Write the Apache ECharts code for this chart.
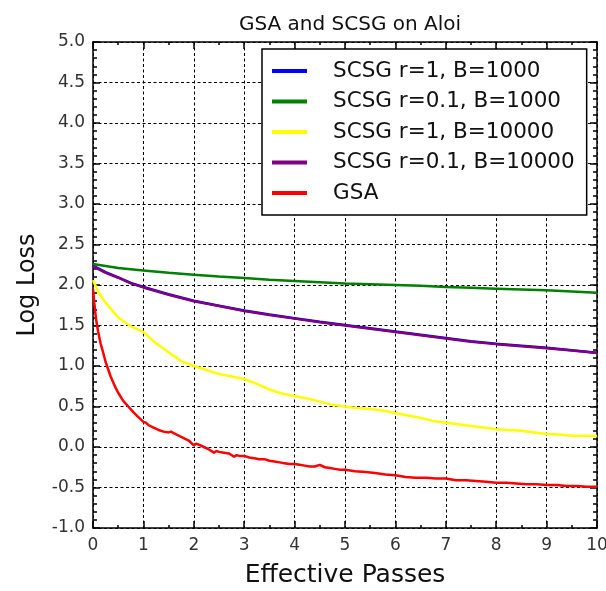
<!DOCTYPE html>
<html>
<head>
<meta charset="utf-8">
<script src="https://cdn.jsdelivr.net/npm/echarts@6/dist/echarts.min.js"></script>
<style>
  html, body { margin: 0; padding: 0; background: #fff; }
  #chart { width: 606px; height: 591px; }
</style>
</head>
<body>
<div id="chart"></div>
<script>
// Effective passes (x) and log loss (y) per method
const smoothX = [0, 0.25, 0.5, 0.75, 1, 1.5, 2, 2.5, 3, 3.5, 4, 4.5, 5, 5.5, 6, 6.5, 7, 7.5, 8, 8.5, 9, 9.5, 10];
const scsgR1B1000 = [2.24, 2.16, 2.095, 2.025, 1.975, 1.885, 1.805, 1.745, 1.685, 1.635, 1.59, 1.545, 1.505, 1.465, 1.425, 1.385, 1.345, 1.305, 1.275, 1.25, 1.225, 1.195, 1.165];
const scsgR01B10000 = [2.23, 2.15, 2.09, 2.02, 1.97, 1.88, 1.80, 1.74, 1.68, 1.63, 1.585, 1.54, 1.50, 1.46, 1.42, 1.38, 1.34, 1.30, 1.27, 1.245, 1.22, 1.19, 1.16];
const scsgR01B1000 = [2.26, 2.235, 2.21, 2.195, 2.18, 2.15, 2.126, 2.105, 2.085, 2.065, 2.05, 2.035, 2.02, 2.01, 2.0, 1.99, 1.975, 1.965, 1.955, 1.945, 1.935, 1.92, 1.905];

const yellowX = [0, 0.1, 0.25, 0.5, 0.75, 1, 1.25, 1.5, 1.75, 2, 2.25, 2.5, 2.75, 3, 3.25, 3.5, 3.75, 4, 4.25, 4.5, 4.75, 5, 5.25, 5.5, 5.75, 6, 6.25, 6.5, 6.75, 7, 7.25, 7.5, 7.75, 8, 8.25, 8.5, 8.75, 9, 9.25, 9.5, 9.75, 10];
const scsgR1B10000 = [2.06, 1.92, 1.78, 1.60, 1.49, 1.42, 1.28, 1.17, 1.06, 1.0, 0.95, 0.90, 0.87, 0.84, 0.78, 0.71, 0.66, 0.63, 0.60, 0.56, 0.52, 0.50, 0.48, 0.47, 0.45, 0.42, 0.39, 0.36, 0.32, 0.30, 0.28, 0.26, 0.24, 0.22, 0.21, 0.20, 0.18, 0.16, 0.155, 0.14, 0.14, 0.135];

const gsaX = [0, 0.03, 0.06, 0.1, 0.15, 0.2, 0.25, 0.3, 0.35, 0.4, 0.45, 0.5, 0.6, 0.7, 0.8, 0.9, 1.0, 1.05, 1.1, 1.2, 1.3, 1.4, 1.5, 1.55, 1.6, 1.7, 1.8, 1.9, 2.0, 2.05, 2.1, 2.2, 2.3, 2.4, 2.45, 2.5, 2.6, 2.7, 2.8, 2.85, 2.9, 3.0, 3.1, 3.2, 3.3, 3.4, 3.5, 3.6, 3.7, 3.8, 3.9, 4.0, 4.1, 4.2, 4.3, 4.4, 4.5, 4.6, 4.7, 4.8, 4.9, 5.0, 5.2, 5.4, 5.6, 5.8, 6.0, 6.2, 6.4, 6.6, 6.8, 7.0, 7.2, 7.4, 7.6, 7.8, 8.0, 8.2, 8.4, 8.6, 8.8, 9.0, 9.2, 9.4, 9.6, 9.8, 10.0];
const gsa = [1.95, 1.75, 1.58, 1.43, 1.28, 1.17, 1.05, 0.96, 0.87, 0.80, 0.73, 0.67, 0.57, 0.50, 0.43, 0.37, 0.31, 0.30, 0.27, 0.24, 0.21, 0.19, 0.18, 0.19, 0.17, 0.14, 0.11, 0.08, 0.02, 0.04, 0.03, 0.0, -0.03, -0.07, -0.05, -0.06, -0.07, -0.08, -0.12, -0.10, -0.11, -0.11, -0.13, -0.14, -0.15, -0.15, -0.17, -0.18, -0.19, -0.20, -0.21, -0.21, -0.22, -0.23, -0.24, -0.24, -0.22, -0.25, -0.26, -0.27, -0.28, -0.28, -0.30, -0.31, -0.32, -0.34, -0.35, -0.37, -0.38, -0.38, -0.39, -0.39, -0.41, -0.41, -0.42, -0.43, -0.44, -0.44, -0.45, -0.46, -0.46, -0.47, -0.47, -0.48, -0.48, -0.49, -0.49];

const xTicks = [0, 1, 2, 3, 4, 5, 6, 7, 8, 9, 10];
const yTicks = [-1.0, -0.5, 0.0, 0.5, 1.0, 1.5, 2.0, 2.5, 3.0, 3.5, 4.0, 4.5, 5.0];

const pairs = (xs, ys) => xs.map((x, i) => [x, ys[i]]);
const FONT = 'DejaVu Sans';

const chart = echarts.init(document.getElementById('chart'), null, { renderer: 'canvas' });

const gridDash = { color: '#000', width: 1, type: [3, 2.5] };
const frameLine = { show: true, onZero: false, lineStyle: { color: '#000', width: 1.5 } };

function lineSeries(name, color, data) {
  return {
    name, type: 'line', data, showSymbol: false, symbol: 'none',
    lineStyle: { color, width: 2.5 }, itemStyle: { color },
    xAxisIndex: 0, yAxisIndex: 0, animation: false, z: 3
  };
}

chart.setOption({
  animation: false,
  backgroundColor: '#fff',
  title: {
    text: 'GSA and SCSG on Aloi',
    left: 345, top: 10, textAlign: 'center',
    textStyle: { fontFamily: FONT, fontSize: 20, fontWeight: 'normal', color: '#111' }
  },
  grid: { left: 93, right: 9, top: 42, bottom: 63, containLabel: false, outerBoundsMode: 'none' },
  legend: {
    orient: 'vertical', left: 262, top: 49,
    padding: [10, 12, 10, 10], itemGap: 6.5,
    itemWidth: 35, itemHeight: 4, icon: 'rect',
    borderColor: '#000', borderWidth: 1.5, backgroundColor: '#fff',
    textStyle: { fontFamily: FONT, fontSize: 21.5, color: '#111', lineHeight: 24, padding: [0, 0, 0, 21] },
    data: ['SCSG r=1, B=1000', 'SCSG r=0.1, B=1000', 'SCSG r=1, B=10000', 'SCSG r=0.1, B=10000', 'GSA']
  },
  xAxis: [
    {
      type: 'value', min: 0, max: 10, interval: 1, position: 'bottom',
      name: 'Effective Passes', nameLocation: 'middle', nameGap: 35,
      nameTextStyle: { fontFamily: FONT, fontSize: 25, color: '#111' },
      axisLine: frameLine,
      axisTick: { show: true, inside: true, length: 7, lineStyle: { color: '#000', width: 1.5 } },
      minorTick: { show: true, splitNumber: 2, length: 3, lineStyle: { color: '#000', width: 1.5 } },
      axisLabel: { fontFamily: FONT, fontSize: 17, color: '#333', margin: 9, formatter: v => xTicks.includes(v) ? String(v) : '' },
      splitLine: { show: true, lineStyle: gridDash }
    },
    {
      type: 'value', min: 0, max: 10, interval: 1, position: 'top',
      axisLine: frameLine,
      axisTick: { show: true, inside: true, length: 7, lineStyle: { color: '#000', width: 1.5 } },
      minorTick: { show: true, splitNumber: 2, length: 3, lineStyle: { color: '#000', width: 1.5 } },
      axisLabel: { show: false }, splitLine: { show: false }
    }
  ],
  yAxis: [
    {
      type: 'value', min: -1, max: 5, interval: 0.5, position: 'left',
      name: 'Log Loss', nameLocation: 'middle', nameGap: 53,
      nameTextStyle: { fontFamily: FONT, fontSize: 24, color: '#111' },
      axisLine: frameLine,
      axisTick: { show: true, inside: true, length: 7, lineStyle: { color: '#000', width: 1.5 } },
      minorTick: { show: true, splitNumber: 5, length: 4, lineStyle: { color: '#000', width: 1.5 } },
      axisLabel: { fontFamily: FONT, fontSize: 17, color: '#333', margin: 8, formatter: v => v.toFixed(1) },
      splitLine: { show: true, lineStyle: gridDash }
    },
    {
      type: 'value', min: -1, max: 5, interval: 0.5, position: 'right',
      axisLine: frameLine,
      axisTick: { show: true, inside: true, length: 7, lineStyle: { color: '#000', width: 1.5 } },
      minorTick: { show: true, splitNumber: 5, length: 4, lineStyle: { color: '#000', width: 1.5 } },
      axisLabel: { show: false }, splitLine: { show: false }
    }
  ],
  series: [
    lineSeries('SCSG r=1, B=1000', '#0000ff', pairs(smoothX, scsgR1B1000)),
    lineSeries('SCSG r=0.1, B=1000', '#008000', pairs(smoothX, scsgR01B1000)),
    lineSeries('SCSG r=1, B=10000', '#ffff00', pairs(yellowX, scsgR1B10000)),
    lineSeries('SCSG r=0.1, B=10000', '#800080', pairs(smoothX, scsgR01B10000)),
    lineSeries('GSA', '#ff0000', pairs(gsaX, gsa))
  ]
});
</script>
</body>
</html>
